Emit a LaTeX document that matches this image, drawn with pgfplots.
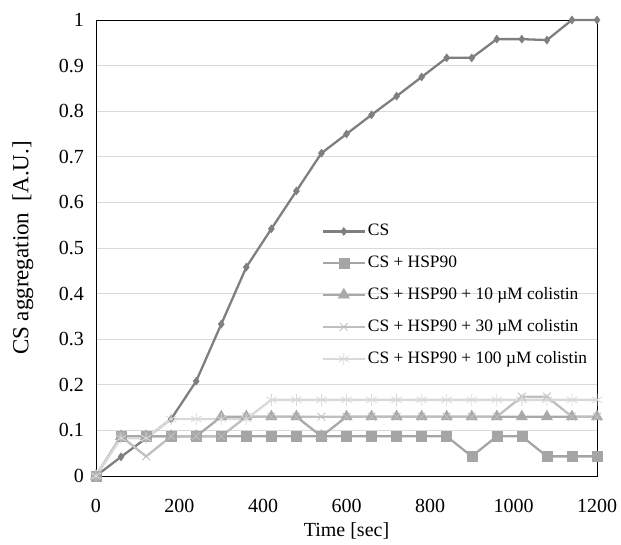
\documentclass[border=0pt]{standalone}
\usepackage{fontspec}
\setmainfont{Liberation Serif}
\usepackage{pgfplots}
\pgfplotsset{compat=1.18}
\definecolor{cA}{HTML}{7F7F7F}
\definecolor{cB}{HTML}{A5A5A5}
\definecolor{cC}{HTML}{A9A9A9}
\definecolor{cD}{HTML}{BFBFBF}
\definecolor{cE}{HTML}{D9D9D9}
\begin{document}
\fontsize{20}{24}\selectfont
\begin{tikzpicture}[font=\fontsize{20}{24}\selectfont]
\begin{axis}[name=ax,
  scale only axis, width=501pt, height=456pt,
  xmin=0, xmax=1200, ymin=0, ymax=1,
  clip=false,
  axis line style={black, line width=0.9pt},
  major tick length=0pt,
  xtick={0,200,400,600,800,1000,1200},
  xticklabels={0,200,400,600,800,1000,1200},
  ytick={0,0.1,0.2,0.3,0.4,0.5,0.6,0.7,0.8,0.9,1},
  yticklabels={0,0.1,0.2,0.3,0.4,0.5,0.6,0.7,0.8,0.9,1},
  tick label style={font=\fontsize{20}{24}\selectfont},
  xticklabel style={inner sep=0pt, anchor=north, yshift=-23pt},
  yticklabel style={inner sep=0pt, anchor=east, xshift=-12pt},
  ymajorgrids, grid style={cE, line width=0.75pt},
  xlabel={Time [sec]}, ylabel={CS aggregation\ \ [A.U.]},
  xlabel style={font=\fontsize{20}{24}\selectfont, at={([yshift=-55pt]rel axis cs:0.5,0)}, anchor=center},
  ylabel style={font=\fontsize{23}{27}\selectfont, at={([xshift=-73pt]rel axis cs:0,0.5)}, anchor=center},
  legend style={at={(rel axis cs:0.45,0.557)}, anchor=north west, draw=none, fill=none,
    row sep=13pt, font=\fontsize{17.4}{21}\selectfont, inner sep=0pt},
  legend cell align=left,
  legend image code/.code={\draw[mark repeat=2,mark phase=2] plot coordinates {(0pt,0pt) (21pt,0pt) (42pt,0pt)};},
  every axis plot/.append style={line width=2.3pt},
]
\addplot[cA, mark=diamond*, mark size=4pt, mark options={solid, fill=cA, line width=0.5pt}] coordinates {
(0,0) (60,0.042) (120,0.083) (180,0.125) (240,0.208) (300,0.333) (360,0.458) (420,0.542) (480,0.625) (540,0.708) (600,0.75) (660,0.792) (720,0.833) (780,0.875) (840,0.917) (900,0.917) (960,0.958) (1020,0.958) (1080,0.956) (1140,1) (1200,1)};
\addlegendentry{CS}
\addplot[cB, mark=square*, mark size=5pt, mark options={solid, fill=cB, line width=0.5pt}] coordinates {
(0,0) (60,0.087) (120,0.087) (180,0.087) (240,0.087) (300,0.087) (360,0.087) (420,0.087) (480,0.087) (540,0.087) (600,0.087) (660,0.087) (720,0.087) (780,0.087) (840,0.087) (900,0.043) (960,0.087) (1020,0.087) (1080,0.043) (1140,0.043) (1200,0.043)};
\addlegendentry{CS + HSP90}
\addplot[cC, mark=triangle*, mark size=6.5pt, mark options={solid, fill=cC, line width=0.5pt}] coordinates {
(0,0) (60,0.087) (120,0.087) (180,0.087) (240,0.087) (300,0.13) (360,0.13) (420,0.13) (480,0.13) (540,0.087) (600,0.13) (660,0.13) (720,0.13) (780,0.13) (840,0.13) (900,0.13) (960,0.13) (1020,0.13) (1080,0.13) (1140,0.13) (1200,0.13)};
\addlegendentry{CS + HSP90 + 10 µM colistin}
\addplot[cD, mark=x, mark size=5.5pt, mark options={solid, line width=0.8pt}] coordinates {
(0,0) (60,0.087) (120,0.043) (180,0.087) (240,0.087) (300,0.087) (360,0.13) (420,0.13) (480,0.13) (540,0.13) (600,0.13) (660,0.13) (720,0.13) (780,0.13) (840,0.13) (900,0.13) (960,0.13) (1020,0.174) (1080,0.174) (1140,0.13) (1200,0.13)};
\addlegendentry{CS + HSP90 + 30 µM colistin}
\addplot[cE, mark=asterisk, mark size=6pt, mark options={solid, line width=0.8pt}] coordinates {
(0,0) (60,0.083) (120,0.083) (180,0.125) (240,0.125) (300,0.125) (360,0.125) (420,0.167) (480,0.167) (540,0.167) (600,0.167) (660,0.167) (720,0.167) (780,0.167) (840,0.167) (900,0.167) (960,0.167) (1020,0.167) (1080,0.167) (1140,0.167) (1200,0.167)};
\addlegendentry{CS + HSP90 + 100 µM colistin}
\end{axis}
\pgfresetboundingbox
\path ([shift={(-96pt,-68pt)}]ax.south west) rectangle ([shift={(24pt,20pt)}]ax.north east);
\end{tikzpicture}
\end{document}
